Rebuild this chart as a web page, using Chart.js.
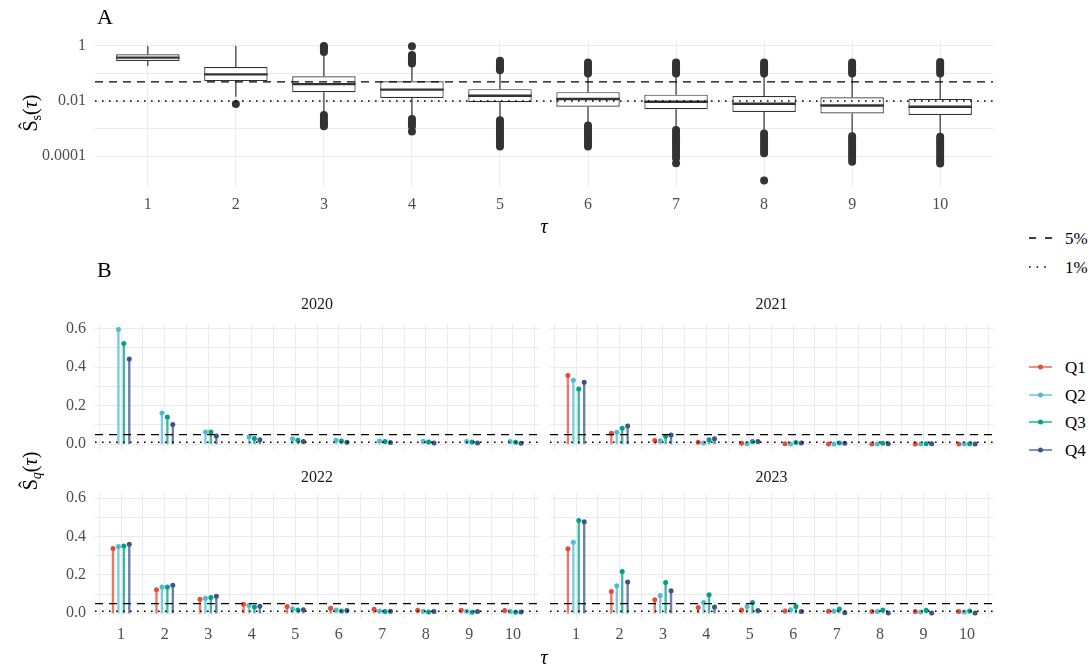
<!DOCTYPE html>
<html>
<head>
<meta charset="utf-8">
<script src="https://cdn.jsdelivr.net/npm/chart.js@4.4.1/dist/chart.umd.min.js"></script>
<style>
  body { margin: 0; background: #fff; }
  #page { position: relative; width: 1091px; height: 668px; overflow: hidden; font-family: "Liberation Serif", "DejaVu Serif", serif; }
  canvas { position: absolute; }
  .lbl { position: absolute; white-space: nowrap; line-height: 1; transform: translate(0, -50%); color: #000; }
  .mid { transform: translate(-50%, -50%); }
  .ytitle { transform: translate(-50%, -50%) rotate(-90deg); font-size: 20px; }
  .ytitle sub { font-size: 0.7em; vertical-align: -0.3em; line-height: 0; }
  svg { position: absolute; overflow: visible; }
</style>
</head>
<body>
<div id="page">
  <canvas id="panelA" width="1000" height="240" style="left:0;top:0"></canvas>
  <canvas id="c2020" width="545" height="192" style="left:0;top:290px"></canvas>
  <canvas id="c2021" width="455" height="192" style="left:545px;top:290px"></canvas>
  <canvas id="c2022" width="545" height="208" style="left:0;top:460px"></canvas>
  <canvas id="c2023" width="455" height="208" style="left:545px;top:460px"></canvas>

  <div class="lbl" style="left:97px;top:17px;font-size:22px">A</div>
  <div class="lbl" style="left:97px;top:270px;font-size:22px">B</div>

  <div class="lbl ytitle" style="left:30px;top:113px">Ŝ<sub>s</sub>(<i>τ</i>)</div>
  <div class="lbl ytitle" style="left:30px;top:471px">Ŝ<sub><i>q</i></sub>(<i>τ</i>)</div>
  <div class="lbl mid" style="left:544px;top:226px;font-size:20px"><i>τ</i></div>
  <div class="lbl mid" style="left:544px;top:657px;font-size:20px"><i>τ</i></div>

  <svg style="left:1027px;top:230px" width="30" height="45">
    <line x1="2" y1="8" x2="25" y2="8" stroke="#000" stroke-width="1.3" stroke-dasharray="7 9"/>
    <line x1="2" y1="37" x2="21" y2="37" stroke="#000" stroke-width="1.5" stroke-dasharray="1.6 6"/>
  </svg>
  <div class="lbl" style="left:1065px;top:238px;font-size:17px">5%</div>
  <div class="lbl" style="left:1065px;top:267px;font-size:17px">1%</div>

  <div id="qLegend"></div>
</div>

<script>
const taus = [1, 2, 3, 4, 5, 6, 7, 8, 9, 10];
const xLimits = [0.4, 10.6];

// panel A: bootstrap distribution of S_s(tau), log scale
const boxLower = [0.285, 0.053, 0.021, 0.013, 0.0090, 0.0062, 0.0050, 0.0040, 0.0035, 0.0031];
const boxMedian = [0.377, 0.093, 0.041, 0.026, 0.0156, 0.0118, 0.0094, 0.0080, 0.0069, 0.0062];
const boxUpper = [0.50, 0.172, 0.079, 0.052, 0.027, 0.021, 0.017, 0.0152, 0.0136, 0.0118];
const whiskerLow = [0.187, 0.0144, 0.0038, 0.0027, 0.0023, 0.0015, 0.0010, 0.00076, 0.00062, 0.00058];
const whiskerHigh = [1.0, 1.0, 0.50, 0.20, 0.115, 0.088, 0.088, 0.088, 0.088, 0.088];
const outliersByTau = [
  [],
  [0.0078],
  [1.0, 0.9, 0.8, 0.7, 0.6, 0.0031, 0.0026, 0.0021, 0.0017, 0.0014, 0.0012],
  [0.98, 0.47, 0.42, 0.36, 0.31, 0.27, 0.23, 0.0022, 0.0018, 0.0015, 0.0012, 0.00078],
  [0.29, 0.25, 0.21, 0.18, 0.155, 0.13, 0.0020, 0.0016, 0.0013, 0.00105, 0.00085, 0.00068, 0.00055, 0.00044, 0.00035, 0.00028, 0.00022],
  [0.25, 0.21, 0.175, 0.145, 0.12, 0.10, 0.0013, 0.00105, 0.00085, 0.00068, 0.00055, 0.00044, 0.00035, 0.00028, 0.00022],
  [0.25, 0.21, 0.175, 0.145, 0.12, 0.10, 0.00088, 0.0007, 0.00056, 0.00045, 0.00036, 0.00029, 0.00023, 0.00018, 0.00014, 0.00011, 0.000085, 0.000055],
  [0.25, 0.21, 0.175, 0.145, 0.12, 0.10, 0.00066, 0.00053, 0.00042, 0.00033, 0.00026, 0.0002, 0.00016, 0.000126, 0.000013],
  [0.25, 0.21, 0.175, 0.145, 0.12, 0.10, 0.00052, 0.00042, 0.00033, 0.00026, 0.0002, 0.00016, 0.00013, 0.0001, 0.00008, 0.000062],
  [0.26, 0.22, 0.18, 0.15, 0.125, 0.10, 0.0005, 0.0004, 0.00032, 0.00026, 0.0002, 0.00016, 0.00013, 0.0001, 0.00008, 0.000065, 0.000054]
];
const logLimits = [7.5e-6, 1.65];
const logTicks = [1e-4, 1e-3, 1e-2, 1e-1, 1];
const logTickLabels = ['0.0001', '', '0.01', '', '1'];

// reference levels (5% dashed, 1% dotted)
const refLevels = [0.05, 0.01];

// panel B: S_q(tau) by year and quarter
const quarters = ['Q1', 'Q2', 'Q3', 'Q4'];
const y2020Q2 = [0.595, 0.162, 0.064, 0.038, 0.028, 0.021, 0.017, 0.016, 0.014, 0.014];
const y2020Q3 = [0.522, 0.141, 0.063, 0.030, 0.021, 0.017, 0.014, 0.012, 0.012, 0.010];
const y2020Q4 = [0.442, 0.103, 0.043, 0.024, 0.014, 0.010, 0.009, 0.007, 0.007, 0.005];
const y2021Q1 = [0.357, 0.057, 0.019, 0.010, 0.005, 0.003, 0.002, 0.002, 0.002, 0.002];
const y2021Q2 = [0.332, 0.062, 0.018, 0.007, 0.003, 0.002, 0.002, 0.002, 0.002, 0.002];
const y2021Q3 = [0.287, 0.083, 0.041, 0.023, 0.014, 0.009, 0.007, 0.005, 0.003, 0.003];
const y2021Q4 = [0.321, 0.095, 0.048, 0.028, 0.014, 0.007, 0.005, 0.003, 0.003, 0.002];
const y2022Q1 = [0.337, 0.122, 0.073, 0.047, 0.035, 0.026, 0.021, 0.016, 0.016, 0.014];
const y2022Q2 = [0.348, 0.137, 0.078, 0.040, 0.024, 0.017, 0.012, 0.010, 0.010, 0.009];
const y2022Q3 = [0.351, 0.137, 0.082, 0.033, 0.017, 0.012, 0.009, 0.007, 0.005, 0.005];
const y2022Q4 = [0.360, 0.146, 0.089, 0.037, 0.019, 0.014, 0.010, 0.009, 0.009, 0.007];
const y2023Q1 = [0.336, 0.113, 0.070, 0.030, 0.017, 0.012, 0.010, 0.009, 0.009, 0.009];
const y2023Q2 = [0.370, 0.143, 0.092, 0.056, 0.035, 0.019, 0.012, 0.009, 0.007, 0.007];
const y2023Q3 = [0.483, 0.217, 0.160, 0.096, 0.056, 0.035, 0.023, 0.017, 0.016, 0.012];
const y2023Q4 = [0.477, 0.163, 0.118, 0.033, 0.014, 0.009, 0.003, 0.002, 0.001, 0.001];

const lagTicks = [0.5, 1, 1.5, 2, 2.5, 3, 3.5, 4, 4.5, 5, 5.5, 6, 6.5, 7, 7.5, 8, 8.5, 9, 9.5, 10, 10.5];
const lagTickLabels = ['', '1', '', '2', '', '3', '', '4', '', '5', '', '6', '', '7', '', '8', '', '9', '', '10', ''];
const sqLimits = [-0.0297, 0.6237];
const sqTicks = [0, 0.1, 0.2, 0.3, 0.4, 0.5, 0.6];
const sqTickLabels = ['0.0', '', '0.2', '', '0.4', '', '0.6'];

// styling
const quarterColors = ['#E64B35', '#4DBBD5', '#00A087', '#3C5488'];
const dodge = [-0.1875, -0.0625, 0.0625, 0.1875];
const gridColor = '#EBEBEB';
const tickColor = '#4D4D4D';
const serif = '"Liberation Serif", "DejaVu Serif", serif';

Chart.defaults.font.family = serif;
Chart.defaults.animation = false;

function alpha(hex, a) {
  const n = parseInt(hex.slice(1), 16);
  return 'rgba(' + (n >> 16) + ',' + ((n >> 8) & 255) + ',' + (n & 255) + ',' + a + ')';
}

function refLine(level, j) {
  return {
    type: 'line',
    data: [{x: xLimits[0], y: level}, {x: xLimits[1], y: level}],
    borderColor: '#000',
    borderWidth: j ? 1.5 : 1.2,
    borderDash: j ? [1.6, 5.4] : [8, 6],
    pointRadius: 0,
    order: 1
  };
}

function fixedTicks(values) {
  return function (scale) { scale.ticks = values.map(v => ({value: v})); };
}

// medians and whiskers on top of the floating-bar boxes
const boxWhiskers = {
  id: 'boxWhiskers',
  afterDatasetDraw(chart, args) {
    if (args.meta.type !== 'bar') return;
    const {ctx, scales: {x, y}} = chart;
    const bars = args.meta.data;
    ctx.save();
    ctx.strokeStyle = '#333333';
    taus.forEach((t, i) => {
      const px = x.getPixelForValue(t);
      const half = bars[i].width / 2;
      ctx.lineWidth = 1.2;
      ctx.beginPath();
      ctx.moveTo(px, y.getPixelForValue(boxUpper[i]));
      ctx.lineTo(px, y.getPixelForValue(whiskerHigh[i]));
      ctx.moveTo(px, y.getPixelForValue(boxLower[i]));
      ctx.lineTo(px, y.getPixelForValue(whiskerLow[i]));
      ctx.stroke();
      ctx.lineWidth = 2.4;
      ctx.beginPath();
      ctx.moveTo(px - half, y.getPixelForValue(boxMedian[i]));
      ctx.lineTo(px + half, y.getPixelForValue(boxMedian[i]));
      ctx.stroke();
    });
    ctx.restore();
  }
};

const outlierPoints = [];
outliersByTau.forEach((vals, i) => vals.forEach(v => outlierPoints.push({x: taus[i], y: v})));

new Chart(document.getElementById('panelA'), {
  type: 'scatter',
  data: {
    datasets: [
      {
        type: 'bar',
        data: taus.map((t, i) => ({x: t, y: [boxLower[i], boxUpper[i]]})),
        backgroundColor: '#ffffff',
        borderColor: '#333333',
        borderWidth: 1.2,
        borderSkipped: false,
        barPercentage: 0.9,
        categoryPercentage: 0.8,
        order: 3
      },
      {
        data: outlierPoints,
        backgroundColor: '#333333',
        pointRadius: 4,
        borderWidth: 0,
        order: 2
      },
      refLine(refLevels[0], 0),
      refLine(refLevels[1], 1)
    ]
  },
  options: {
    responsive: false,
    events: [],
    layout: {padding: {top: 40, right: 7, left: 0, bottom: 0}},
    plugins: {legend: {display: false}, tooltip: {enabled: false}},
    scales: {
      x: {
        type: 'linear', min: xLimits[0], max: xLimits[1], offset: false,
        afterBuildTicks: fixedTicks(taus),
        afterFit: s => { s.height = 53; },
        grid: {color: gridColor, drawTicks: false, offset: false},
        border: {display: false},
        ticks: {autoSkip: false, maxRotation: 0, padding: 8, color: tickColor, font: {size: 16},
                callback: v => String(v)}
      },
      y: {
        type: 'logarithmic', min: logLimits[0], max: logLimits[1],
        afterBuildTicks: fixedTicks(logTicks),
        afterFit: s => { s.width = 95; },
        grid: {color: gridColor, drawTicks: false},
        border: {display: false},
        ticks: {autoSkip: false, padding: 9, color: tickColor, font: {size: 16},
                callback: (v, i) => logTickLabels[i]}
      }
    }
  },
  plugins: [boxWhiskers]
});

function lagChart(id, year, series, showX, showY) {
  const datasets = [];
  series.forEach((vals, k) => {
    if (!vals) return;
    datasets.push({
      type: 'bar',
      data: taus.map((t, i) => ({x: t + dodge[k], y: [0, vals[i]]})),
      backgroundColor: alpha(quarterColors[k], 0.75),
      barThickness: 1.7,
      grouped: false,
      borderWidth: 0,
      order: 3
    });
    datasets.push({
      data: taus.map((t, i) => ({x: t + dodge[k], y: vals[i]})),
      backgroundColor: quarterColors[k],
      pointRadius: 2.5,
      borderWidth: 0,
      order: 2
    });
  });
  refLevels.forEach((lvl, j) => datasets.push(refLine(lvl, j)));

  return new Chart(document.getElementById(id), {
    type: 'scatter',
    data: {datasets},
    options: {
      responsive: false,
      events: [],
      layout: {padding: {left: showY ? 0 : 5, right: showY ? 6 : 7, top: 0, bottom: showX ? 0 : 32}},
      plugins: {
        legend: {display: false},
        tooltip: {enabled: false},
        title: {
          display: true, text: year, fullSize: false, color: '#1A1A1A',
          font: {size: 16, weight: 'normal'},
          padding: showX ? {top: 8.4, bottom: 5.9} : {top: 5.4, bottom: 9.4}
        }
      },
      scales: {
        x: {
          type: 'linear', min: xLimits[0], max: xLimits[1], offset: false,
          afterBuildTicks: fixedTicks(lagTicks),
          afterFit: s => { s.height = showX ? 49 : 0; },
          grid: {color: gridColor, drawTicks: false, offset: false},
          border: {display: false},
          ticks: {display: showX, autoSkip: false, maxRotation: 0, padding: 6, color: tickColor,
                  font: {size: 16}, callback: (v, i) => lagTickLabels[i]}
        },
        y: {
          min: sqLimits[0], max: sqLimits[1],
          afterBuildTicks: fixedTicks(sqTicks),
          afterFit: s => { s.width = showY ? 95 : 0; },
          grid: {color: gridColor, drawTicks: false},
          border: {display: false},
          ticks: {display: showY, autoSkip: false, padding: 9, color: tickColor,
                  font: {size: 16}, callback: (v, i) => sqTickLabels[i]}
        }
      }
    }
  });
}

lagChart('c2020', '2020', [null, y2020Q2, y2020Q3, y2020Q4], false, true);
lagChart('c2021', '2021', [y2021Q1, y2021Q2, y2021Q3, y2021Q4], false, false);
lagChart('c2022', '2022', [y2022Q1, y2022Q2, y2022Q3, y2022Q4], true, true);
lagChart('c2023', '2023', [y2023Q1, y2023Q2, y2023Q3, y2023Q4], true, false);

// quarter legend: line with a point, as drawn by the stems
const legendRows = [367, 394.5, 422, 450];
const legendBox = document.getElementById('qLegend');
quarters.forEach((q, k) => {
  legendBox.insertAdjacentHTML('beforeend',
    '<svg style="left:1027px;top:' + (legendRows[k] - 5) + 'px" width="28" height="10">' +
    '<line x1="2" y1="5" x2="25" y2="5" stroke="' + alpha(quarterColors[k], 0.75) + '" stroke-width="1.7"/>' +
    '<circle cx="13.5" cy="5" r="2.5" fill="' + quarterColors[k] + '"/></svg>' +
    '<div class="lbl" style="left:1065px;top:' + legendRows[k] + 'px;font-size:17px">' + q + '</div>');
});
</script>
</body>
</html>
